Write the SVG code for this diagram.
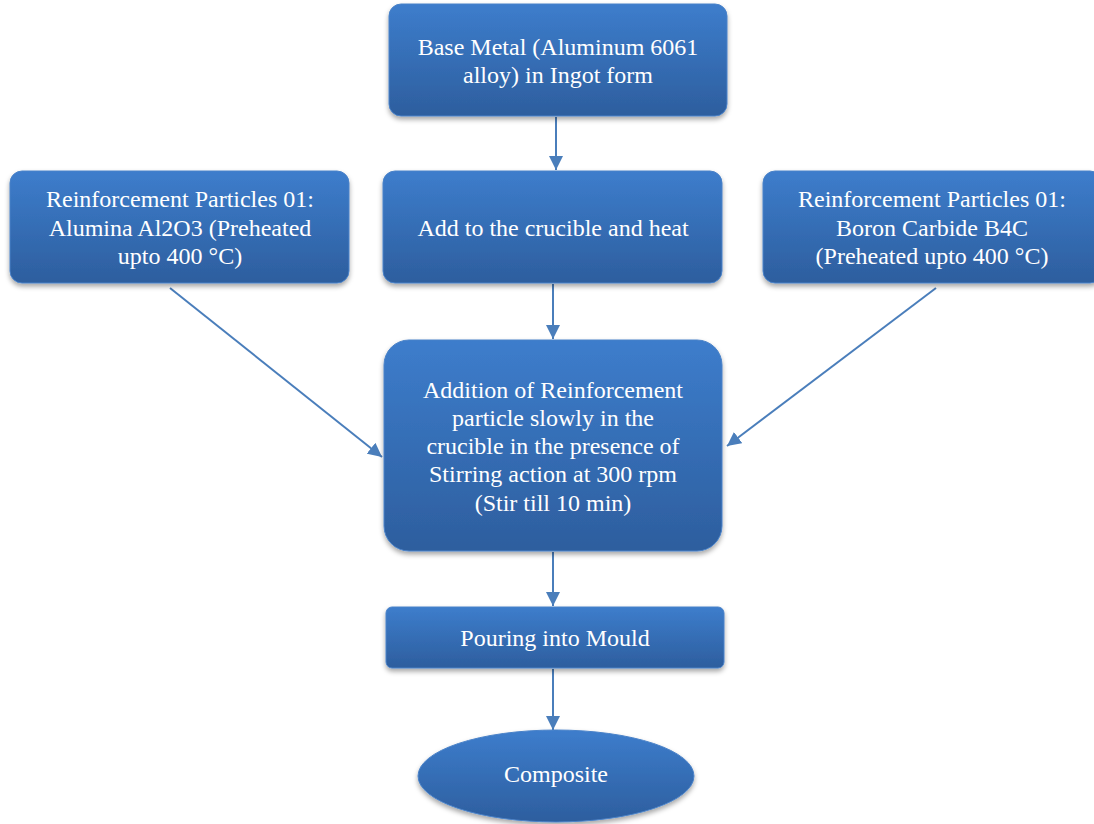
<svg xmlns="http://www.w3.org/2000/svg" width="1094" height="824" viewBox="0 0 1094 824">
<style>
.n{fill:url(#g);stroke:#4a82c8;stroke-width:1;filter:url(#sh)}
.t{font-family:'Liberation Serif','Times New Roman','DejaVu Serif',serif;font-size:24px;fill:#fff;text-anchor:middle}
.c{stroke:#4a7ebb;stroke-width:2;fill:none;marker-end:url(#ah)}
</style>
<defs>
<linearGradient id="g" x1="0" y1="0" x2="0" y2="1">
<stop offset="0" stop-color="#3d7dcc"/>
<stop offset="1" stop-color="#2d5e9e"/>
</linearGradient>
<filter id="sh" x="-10%" y="-10%" width="120%" height="130%">
<feDropShadow dx="0" dy="3" stdDeviation="2.5" flood-color="#000" flood-opacity="0.35"/>
</filter>
<marker id="ah" viewBox="0 0 10 10" refX="10" refY="5" markerWidth="14" markerHeight="14" markerUnits="userSpaceOnUse" orient="auto">
<path d="M0,0 L10,5 L0,10 z" fill="#4a7ebb"/>
</marker>
</defs>
<g id="connectors">
<line class="c" x1="556" y1="117" x2="556" y2="170"/>
<line class="c" x1="553" y1="284" x2="553" y2="339"/>
<line class="c" x1="553" y1="552" x2="553" y2="606"/>
<line class="c" x1="553" y1="669" x2="553" y2="730"/>
<line class="c" x1="170" y1="288" x2="382" y2="457"/>
<line class="c" x1="936" y1="288" x2="727" y2="446"/>
</g>
<g id="base-metal">
<rect class="n" x="389" y="4" width="338" height="112" rx="12"/>
<text class="t" x="558" y="55">Base Metal (Aluminum 6061</text>
<text class="t" x="558" y="83">alloy) in Ingot form</text>
</g>
<g id="alumina">
<rect class="n" x="10" y="171" width="339" height="112" rx="12"/>
<text class="t" x="180" y="207">Reinforcement Particles 01:</text>
<text class="t" x="180" y="236">Alumina Al2O3 (Preheated</text>
<text class="t" x="180" y="264">upto 400 °C)</text>
</g>
<g id="crucible">
<rect class="n" x="383" y="171" width="339" height="112" rx="12"/>
<text class="t" x="553" y="236">Add to the crucible and heat</text>
</g>
<g id="boron">
<rect class="n" x="763" y="171" width="339" height="112" rx="12"/>
<text class="t" x="932" y="207">Reinforcement Particles 01:</text>
<text class="t" x="932" y="236">Boron Carbide B4C</text>
<text class="t" x="932" y="264">(Preheated upto 400 °C)</text>
</g>
<g id="addition">
<rect class="n" x="384" y="340" width="338" height="211" rx="25"/>
<text class="t" x="553" y="398">Addition of Reinforcement</text>
<text class="t" x="553" y="426">particle slowly in the</text>
<text class="t" x="553" y="454">crucible in the presence of</text>
<text class="t" x="553" y="482">Stirring action at 300 rpm</text>
<text class="t" x="553" y="511">(Stir till 10 min)</text>
</g>
<g id="pouring">
<rect class="n" x="386" y="607" width="338" height="61" rx="6"/>
<text class="t" x="555" y="646">Pouring into Mould</text>
</g>
<g id="composite">
<ellipse class="n" cx="556" cy="776" rx="138" ry="46"/>
<text class="t" x="556" y="782">Composite</text>
</g>
</svg>
